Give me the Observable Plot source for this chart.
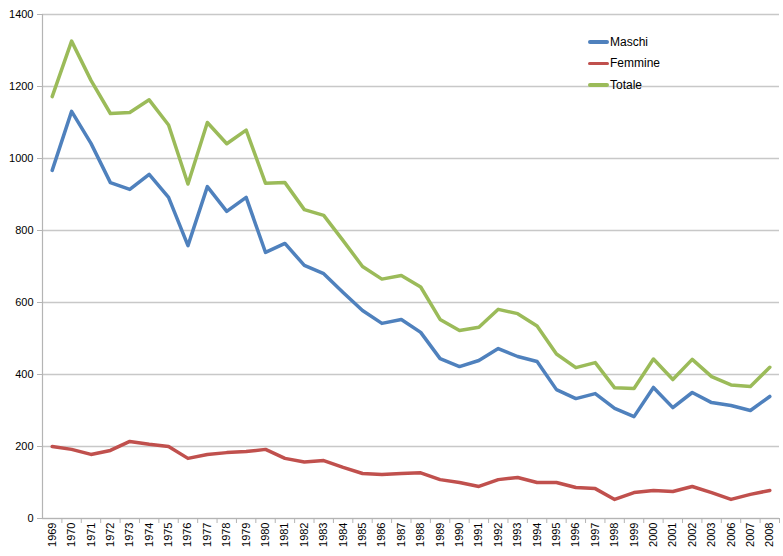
<!DOCTYPE html>
<html>
<head>
<meta charset="utf-8">
<script src="https://cdn.jsdelivr.net/npm/d3@7"></script>
<script src="https://cdn.jsdelivr.net/npm/@observablehq/plot@0.6"></script>
<style>
  body { margin: 0; background: #fff; font-family: "Liberation Sans", Arial, sans-serif; }
  #wrap { position: relative; width: 783px; height: 556px; }
  #legend { position: absolute; left: 588px; top: 31px; font-size: 12px; color: #000; }
  #legend .row { display: flex; align-items: center; height: 21.5px; }
  #legend .sw { width: 21px; height: 3.5px; border-radius: 2px; margin-right: 1px; }
</style>
</head>
<body>
<div id="wrap">
  <div id="chart"></div>
  <div id="legend"></div>
</div>
<script>
const years = ["1969","1970","1971","1972","1973","1974","1975","1976","1977","1978","1979","1980","1981","1982","1983","1984","1985","1986","1987","1988","1989","1990","1991","1992","1993","1994","1995","1996","1997","1998","1999","2000","2001","2002","2003","2006","2007","2008"];
const maschi = [967,1131,1042,933,914,956,892,758,922,853,892,739,764,703,680,628,578,542,553,517,444,422,439,472,450,436,358,333,347,306,283,364,308,350,322,314,300,339];
const femmine = [200,192,178,189,214,206,200,167,178,183,186,192,167,157,161,142,125,122,125,127,108,100,89,108,114,100,100,86,83,53,72,78,75,89,72,53,67,78];
const totale = [1172,1326,1217,1125,1128,1163,1093,929,1100,1041,1079,931,933,858,842,772,700,665,675,643,553,522,531,581,569,535,457,419,433,363,361,443,386,442,394,371,367,420];
const yTicks = [0,200,400,600,800,1000,1200,1400];
const seriesNames = ["Maschi","Femmine","Totale"];
const seriesColors = ["#4f81bd","#c0504d","#9bbb59"];

const rows = [];
[maschi, femmine, totale].forEach((vals, si) => {
  vals.forEach((v, i) => rows.push({year: years[i], value: v, serie: seriesNames[si]}));
});

const W = 783, H = 556, mL = 42, mR = 4, mT = 14, mB = 38;
const step = (W - mL - mR) / years.length;

const chart = Plot.plot({
  width: W, height: H,
  marginLeft: mL, marginRight: mR, marginTop: mT, marginBottom: mB,
  style: {fontFamily: "'Liberation Sans', Arial, sans-serif", fontSize: "11px", color: "#000", background: "#fff"},
  x: {type: "point", domain: years, padding: 0.5, round: false},
  y: {domain: [0, 1400]},
  color: {domain: seriesNames, range: seriesColors},
  marks: [
    Plot.gridY(yTicks, {stroke: "#c8c8c8", strokeOpacity: 1, strokeWidth: 1.5}),
    Plot.ruleX([years[0]], {dx: -step / 2, y1: 0, y2: 1400, stroke: "#b4b4b4", strokeWidth: 1.2}),
    Plot.ruleY([0], {stroke: "#b4b4b4", strokeWidth: 1.2}),
    Plot.axisY(yTicks, {tickSize: 5, tickPadding: 4, tickFormat: d => String(d), stroke: "#b4b4b4", fill: "#000", fontSize: 11, label: null}),
    Plot.axisX({tickSize: 5, dx: step / 2, tickFormat: () => "", stroke: "#b4b4b4", label: null}),
    Plot.axisX({tickSize: 0, tickPadding: 4, tickRotate: -90, fill: "#000", fontSize: 11, label: null}),
    Plot.line(rows, {x: "year", y: "value", z: "serie", stroke: "serie", strokeWidth: 3.5, strokeLinejoin: "round", strokeLinecap: "round"})
  ]
});
document.getElementById("chart").appendChild(chart);

const legend = document.getElementById("legend");
seriesNames.forEach((n, i) => {
  const r = document.createElement("div");
  r.className = "row";
  r.innerHTML = `<span class="sw" style="background:${seriesColors[i]}"></span><span>${n}</span>`;
  legend.appendChild(r);
});
</script>
</body>
</html>
